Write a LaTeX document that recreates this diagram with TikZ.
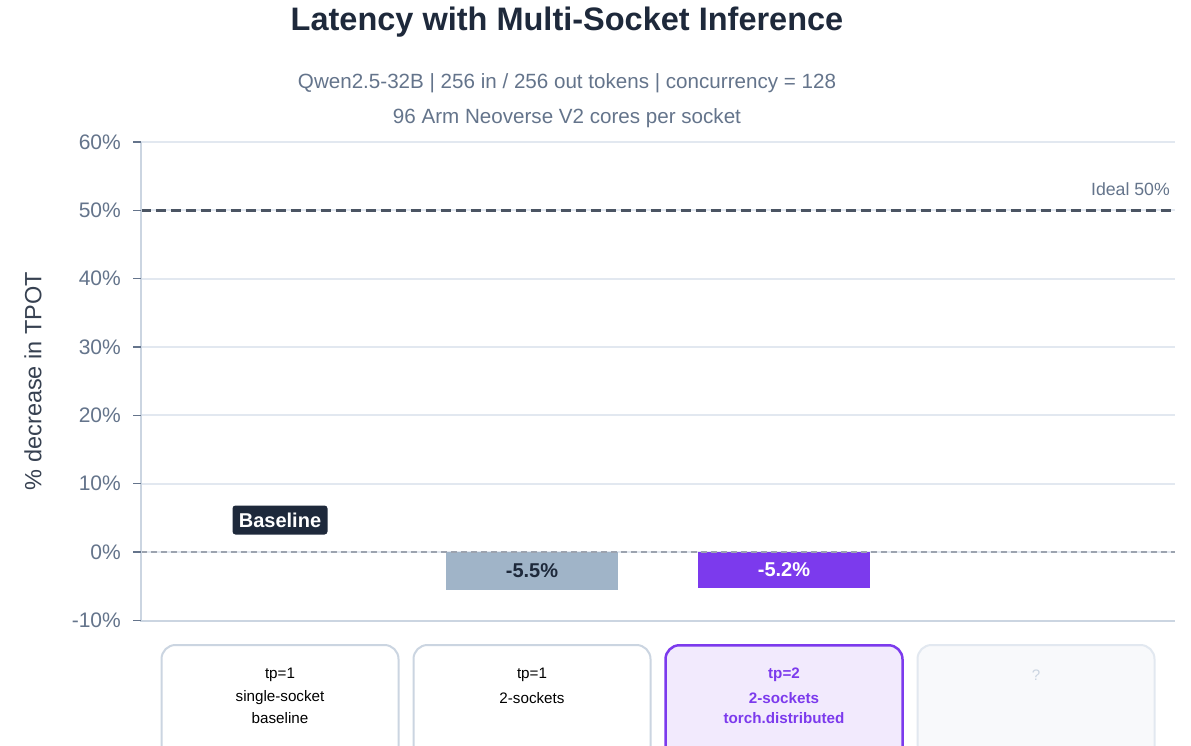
\documentclass[tikz,border=0pt]{standalone}
\usepackage{fontspec}
\setmainfont{Liberation Sans}
\definecolor{titlec}{HTML}{1E293B}
\definecolor{subc}{HTML}{64748B}
\definecolor{gridc}{HTML}{E2E8F0}
\definecolor{spinec}{HTML}{CBD5E1}
\definecolor{idealc}{HTML}{4B5563}
\definecolor{zeroc}{HTML}{9CA3AF}
\definecolor{barone}{HTML}{A0B4C8}
\definecolor{purp}{HTML}{7C3AED}
\definecolor{purpfill}{HTML}{F2EAFD}
\definecolor{ghostfill}{HTML}{F8F9FB}
\definecolor{ylabc}{HTML}{374151}
\newcommand{\fsz}[1]{\fontsize{#1}{#1}\selectfont}
\tikzset{
  grid line/.style={draw=gridc, line width=2pt},
  spine/.style={draw=spinec, line width=2.5pt},
  tickmark/.style={draw=subc, line width=1.5pt},
  ticklabel/.style={anchor=east, text=subc, font=\fsz{21}, inner sep=0pt},
  bar/.style={inner sep=0pt, minimum width=172pt, anchor=north},
  catbox/.style={draw=spinec, fill=white, line width=2pt, rounded corners=14pt,
    minimum width=237pt, minimum height=120pt, anchor=north, inner sep=0pt},
  cattext/.style={font=\fsz{15.2}, text=black, inner sep=0pt},
  purptext/.style={font=\bfseries\fsz{15.2}, text=purp, inner sep=0pt},
}
\begin{document}
\begin{tikzpicture}[x=1pt,y=-1pt]
\useasboundingbox (0,0) rectangle (1191,745);
\fill[white] (0,0) rectangle (1191,745);

% headings
\node[font=\bfseries\fsz{32.5}, text=titlec] (title) at (567,22) {Latency with Multi-Socket Inference};
\node[font=\fsz{20.6}, text=subc] (sub1) at (567,83) {Qwen2.5-32B | 256 in / 256 out tokens | concurrency = 128};
\node[font=\fsz{20.6}, text=subc] (sub2) at (567,118) {96 Arm Neoverse V2 cores per socket};

% horizontal grid
\foreach \v in {60,50,40,30,20,10,0} {
  \draw[grid line] (141,{552-\v*6.833}) -- (1175,{552-\v*6.833});
}

% reference lines
\draw[draw=idealc, line width=3pt, dash pattern=on 10pt off 5pt] (141,210) -- (1175,210);
\node[anchor=south east, text=subc, font=\fsz{17.7}, inner sep=0pt] (ideal) at (1170,196) {Ideal 50\%};

% bars
\node[bar, fill=barone, minimum height=37.6pt] (b2) at (532,552) {};
\node[font=\bfseries\fsz{20}, text=titlec] (b2l) at (532,571) {-5.5\%};
\node[bar, fill=purp, minimum height=35.5pt] (b3) at (784,552) {};
\node[font=\bfseries\fsz{20}, text=white] (b3l) at (784,570) {-5.2\%};

\draw[draw=zeroc, line width=2.2pt, dash pattern=on 6pt off 4pt] (141,552) -- (1175,552);

% baseline tag
\node[fill=titlec, rounded corners=3pt, text=white, font=\bfseries\fsz{20},
  minimum width=95pt, minimum height=29pt, inner sep=0pt] (base) at (280,520) {Baseline};

% axes
\draw[spine] (141,142) -- (141,621) -- (1175,621);
\foreach \v/\t in {60/60\%,50/50\%,40/40\%,30/30\%,20/20\%,10/10\%,0/0\%,-10/-10\%} {
  \draw[tickmark] (133,{552-\v*6.833}) -- (141,{552-\v*6.833});
  \node[ticklabel] at (121,{552-\v*6.833}) {\t};
}
\node[rotate=90, font=\fsz{23.5}, text=ylabc] (ylab) at (33,381) {\% decrease in TPOT};

% configuration cards
\node[catbox] (c1) at (280,644) {};
\node[catbox] (c2) at (532,644) {};
\node[catbox, draw=purp, fill=purpfill, line width=2.5pt] (c3) at (784,644) {};
\node[catbox, draw=gridc, fill=ghostfill] (c4) at (1036,644) {};

\node[cattext] at (280,675) {tp=1};
\node[cattext] at (280,698) {single-socket};
\node[cattext] at (280,718) {baseline};
\node[cattext] at (532,675) {tp=1};
\node[cattext] at (532,698) {2-sockets};
\node[purptext] at (784,675) {tp=2};
\node[purptext] at (784,698) {2-sockets};
\node[purptext] at (784,718) {torch.distributed};
\node[cattext, text=spinec] at (1036,675) {?};
\end{tikzpicture}
\end{document}
